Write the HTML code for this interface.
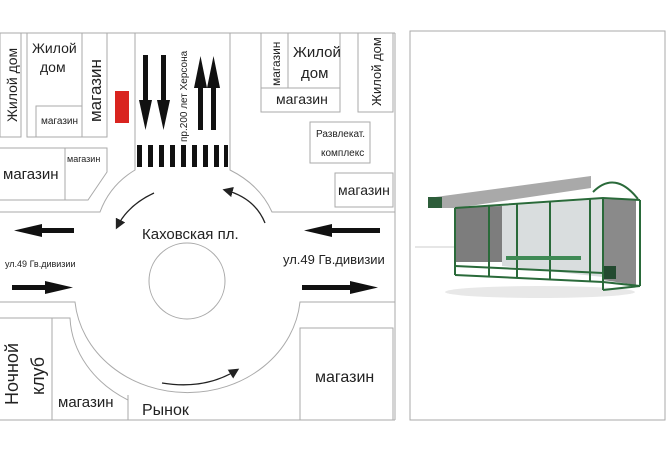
<!DOCTYPE html>
<html><head><meta charset="utf-8"><style>
body{margin:0;background:#fff;width:672px;height:451px;overflow:hidden}
svg{display:block}
text{font-family:"Liberation Sans",sans-serif;fill:#222}
</style></head><body>
<svg width="672" height="451" viewBox="0 0 672 451">
<defs>
<marker id="ah" markerWidth="8" markerHeight="8" refX="6" refY="4" orient="auto"><path d="M0,0 L8,4 L0,8 Z" fill="#222"/></marker>
</defs>
<g fill="none" stroke="#aaa" stroke-width="1">
<line x1="0" y1="33" x2="395" y2="33"/>
<line x1="0" y1="420" x2="395" y2="420"/>
<line x1="395" y1="33" x2="395" y2="420"/>
<rect x="0" y="33" width="21" height="104"/>
<rect x="27" y="33" width="55" height="104"/>
<rect x="36" y="106" width="46" height="31"/>
<rect x="82" y="33" width="25" height="104"/>
<path d="M135,33 V170 Q110,185 100,212 H0"/>
<path d="M230,33 V170 Q260,185 272,212 H395"/>
<path d="M0,148 H107 V172 L88,200 H0"/>
<line x1="65" y1="148" x2="65" y2="200"/>
<rect x="261" y="33" width="27" height="55"/>
<rect x="288" y="33" width="52" height="55"/>
<rect x="261" y="88" width="79" height="24"/>
<rect x="358" y="33" width="35" height="79"/>
<rect x="310" y="122" width="60" height="41"/>
<rect x="335" y="173" width="58" height="34"/>
<path d="M0,302 H75 A113,100 0 0 0 300,302 H395"/>
<path d="M0,318 H70 A118,100 0 0 0 128,400"/>
<line x1="52" y1="318" x2="52" y2="420"/>
<line x1="128" y1="395" x2="128" y2="420"/>
<rect x="300" y="328" width="93" height="92"/>
<circle cx="187" cy="281" r="38"/>
<rect x="410" y="31" width="255" height="389"/>
</g>
<rect x="115" y="91" width="14" height="32" fill="#d9241f"/>
<g fill="#111">
<rect x="143" y="55" width="5" height="50"/><path d="M139,100 h13 l-6.5,30z"/>
<rect x="161" y="55" width="5" height="50"/><path d="M157,100 h13 l-6.5,30z"/>
<rect x="198" y="85" width="5" height="45"/><path d="M194,88 h13 l-6.5,-32z"/>
<rect x="211" y="85" width="5" height="45"/><path d="M207,88 h13 l-6.5,-32z"/>
<rect x="137" y="145" width="5" height="22"/><rect x="148" y="145" width="5" height="22"/><rect x="159" y="145" width="5" height="22"/><rect x="170" y="145" width="5" height="22"/><rect x="181" y="145" width="5" height="22"/><rect x="192" y="145" width="5" height="22"/><rect x="203" y="145" width="5" height="22"/><rect x="214" y="145" width="5" height="22"/><rect x="224" y="145" width="4" height="22"/>
<rect x="40" y="228" width="34" height="5"/><path d="M42,224 v13 l-28,-6.5z"/>
<rect x="330" y="228" width="50" height="5"/><path d="M332,224 v13 l-28,-6.5z"/>
<rect x="12" y="285" width="35" height="5"/><path d="M45,281 v13 l28,-6.5z"/>
<rect x="302" y="285" width="50" height="5"/><path d="M350,281 v13 l28,-6.5z"/>
</g>
<g fill="none" stroke="#222" stroke-width="1.3" marker-end="url(#ah)">
<path d="M154,193 Q128,205 117,227"/>
<path d="M265,223 Q255,198 225,190"/>
<path d="M162,383 Q205,390 237,370"/>
</g>
<text transform="translate(17,122) rotate(-90)" font-size="14">Жилой дом</text>
<text x="32" y="53" font-size="14">Жилой</text>
<text x="40" y="72" font-size="14">дом</text>
<text x="41" y="124" font-size="10">магазин</text>
<text transform="translate(101,122) rotate(-90)" font-size="17">магазин</text>
<text transform="translate(187,142) rotate(-90)" font-size="10">пр.200 лет Херсона</text>
<text x="3" y="179" font-size="15">магазин</text>
<text x="67" y="162" font-size="9">магазин</text>
<text transform="translate(280,86) rotate(-90)" font-size="12">магазин</text>
<text x="293" y="57" font-size="15">Жилой</text>
<text x="301" y="78" font-size="15">дом</text>
<text x="276" y="104" font-size="14">магазин</text>
<text transform="translate(381,106) rotate(-90)" font-size="13">Жилой дом</text>
<text x="316" y="137" font-size="10">Развлекат.</text>
<text x="321" y="156" font-size="10">комплекс</text>
<text x="338" y="195" font-size="14">магазин</text>
<text x="142" y="239" font-size="15">Каховская пл.</text>
<text x="5" y="267" font-size="9">ул.49 Гв.дивизии</text>
<text x="283" y="264" font-size="13">ул.49 Гв.дивизии</text>
<text transform="translate(18,405) rotate(-90)" font-size="18">Ночной</text>
<text transform="translate(44,395) rotate(-90)" font-size="18">клуб</text>
<text x="58" y="407" font-size="15">магазин</text>
<text x="142" y="415" font-size="16">Рынок</text>
<text x="315" y="382" font-size="16">магазин</text>
<line x1="415" y1="247" x2="460" y2="247" stroke="#ccc"/>
<ellipse cx="540" cy="292" rx="95" ry="6" fill="#e8e8e8"/>
<polygon points="455,208 502,206 502,262 455,262" fill="#7d7d7d"/>
<polygon points="502,206 603,199 603,277 502,266" fill="#c9cfd0" opacity="0.7"/>
<polygon points="603,199 636,200 636,285 603,280" fill="#8a8a8a"/>
<polygon points="428,198 591,176 591,188 456,208 428,208" fill="#a9a9a9"/>
<rect x="428" y="197" width="14" height="11" fill="#2d5d3a"/>
<path d="M593,192 Q615,170 638,199" fill="none" stroke="#2a6a3a" stroke-width="2"/>
<g stroke="#2a6a3a" stroke-width="2" fill="none">
<path d="M455,208 L603,198 L640,200"/>
<line x1="455" y1="208" x2="455" y2="275"/>
<line x1="489" y1="206" x2="489" y2="277"/>
<line x1="517" y1="204" x2="517" y2="278"/>
<line x1="550" y1="202" x2="550" y2="280"/>
<line x1="590" y1="199" x2="590" y2="282"/>
<line x1="603" y1="199" x2="603" y2="290"/>
<line x1="640" y1="200" x2="640" y2="286"/>
<path d="M455,266 L603,273 M455,275 L603,282 L640,286 M603,290 L640,286"/>
</g>
<rect x="506" y="256" width="75" height="4" fill="#3f8a55"/>
<rect x="604" y="266" width="12" height="13" fill="#234a30"/>
</svg>
</body></html>
